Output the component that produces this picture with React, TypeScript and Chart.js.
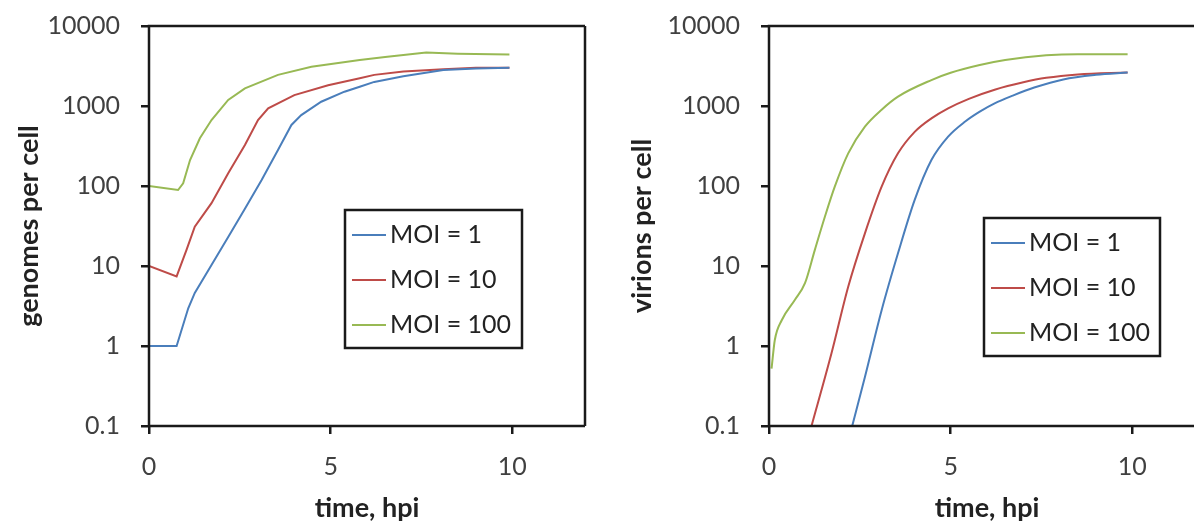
import React, { useEffect, useRef } from 'react';
import { Chart, registerables } from 'chart.js';

Chart.register(...registerables);

// ---------- data ----------
const seriesLabels = ['MOI = 1', 'MOI = 10', 'MOI = 100'];
const xTicks = [0, 5, 10];
const yTicks = [0.1, 1, 10, 100, 1000, 10000];

// genomes per cell (left panel)
const genomesT1 = [0, 0.76, 1.08, 1.26, 1.72, 2.18, 2.64, 3.1, 3.55, 3.92, 4.19, 4.74, 5.38, 5.8, 6.2, 7.0, 8.1, 9.0, 9.92];
const genomesV1 = [1, 1, 2.96, 4.6, 10.3, 23, 52, 119, 282, 580, 770, 1130, 1510, 1740, 2000, 2350, 2820, 2950, 3000];
const genomesT10 = [0, 0.76, 1.03, 1.26, 1.72, 2.18, 2.64, 3.0, 3.28, 4.0, 4.93, 5.8, 6.2, 7.0, 8.1, 9.0, 9.92];
const genomesV10 = [10, 7.4, 15.8, 31, 61, 144, 325, 668, 935, 1370, 1820, 2220, 2450, 2700, 2880, 3000, 3000];
const genomesT100 = [0, 0.8, 0.94, 1.13, 1.4, 1.72, 2.18, 2.64, 3.55, 4.47, 5.8, 6.5, 7.63, 8.5, 9.92];
const genomesV100 = [100, 89, 108, 211, 395, 668, 1190, 1660, 2450, 3100, 3750, 4100, 4650, 4500, 4400];

// virions per cell (right panel)
const virionsT1 = [2.29, 2.64, 3.1, 3.55, 4.01, 4.47, 4.93, 5.4, 5.8, 6.21, 6.71, 7.3, 8.1, 9.0, 9.87];
const virionsV1 = [0.1, 0.41, 2.8, 14.4, 67, 211, 414, 640, 850, 1080, 1350, 1700, 2150, 2450, 2620];
const virionsT10 = [1.17, 1.72, 2.18, 2.64, 3.1, 3.55, 4.01, 4.47, 4.93, 5.5, 6.21, 7.0, 7.63, 8.5, 9.87];
const virionsV10 = [0.1, 0.81, 5.5, 25.6, 98, 256, 475, 700, 935, 1230, 1600, 1980, 2250, 2480, 2620];
const virionsT100 = [0.07, 0.16, 0.35, 0.71, 0.99, 1.26, 1.54, 1.81, 2.18, 2.64, 3.1, 3.55, 4.47, 5.0, 5.8, 6.5, 7.63, 8.5, 9.87];
const virionsV100 = [0.52, 1.19, 2.1, 3.76, 6.1, 15.8, 41.5, 98, 256, 552, 900, 1310, 2110, 2600, 3250, 3750, 4300, 4450, 4450];

const colors = ['#4A7EBB', '#BE4B48', '#98B954'];

// ---------- styling ----------
const FONT = 'Lato, "Open Sans", sans-serif';
const AXIS = '#1a1a1a';

const zip = (t: number[], v: number[]) => t.map((x, i) => ({ x, y: v[i] }));

const framePlugin = {
  id: 'frameLegend',
  afterDraw(chart: any, _args: any, opts: any) {
    const { ctx, chartArea } = chart;
    const { left, right, top, bottom } = chartArea;
    ctx.save();
    ctx.lineWidth = 2.5;
    ctx.strokeStyle = AXIS;
    ctx.beginPath();
    ctx.moveTo(left, bottom);
    ctx.lineTo(left, top);
    ctx.lineTo(right, top);
    ctx.moveTo(left, bottom);
    ctx.lineTo(right, bottom);
    if (!opts || !opts.openRight) {
      ctx.moveTo(right, top);
      ctx.lineTo(right, bottom);
    }
    ctx.stroke();
    if (opts && opts.box) {
      const bx = left + opts.box.dx;
      const by = top + opts.box.dy;
      ctx.fillStyle = '#ffffff';
      ctx.fillRect(bx, by, opts.box.w, opts.box.h);
      ctx.lineWidth = 2.5;
      ctx.strokeStyle = AXIS;
      ctx.strokeRect(bx, by, opts.box.w, opts.box.h);
      chart.data.datasets.forEach((ds: any, i: number) => {
        const yy = by + 25 + i * 45;
        ctx.beginPath();
        ctx.strokeStyle = ds.borderColor;
        ctx.lineWidth = 2;
        ctx.moveTo(bx + 7, yy);
        ctx.lineTo(bx + 41, yy);
        ctx.stroke();
        ctx.fillStyle = '#222222';
        ctx.font = `25px ${FONT}`;
        ctx.textBaseline = 'middle';
        ctx.textAlign = 'left';
        ctx.fillText(ds.label, bx + 45, yy);
      });
    }
    ctx.restore();
  },
};

function makeConfig(
  datasets: { t: number[]; v: number[] }[],
  yTitle: string,
  yWidth: number,
  yTitlePad: number,
  box: any,
  openRight: boolean,
  smooth: boolean
) {
  return {
    type: 'line',
    data: {
      datasets: datasets.map((d, i) => ({
        label: seriesLabels[i],
        data: zip(d.t, d.v),
        borderColor: colors[i],
        backgroundColor: colors[i],
        borderWidth: 2,
        pointRadius: 0,
        fill: false,
        tension: smooth ? 0.4 : 0,
        cubicInterpolationMode: smooth ? 'monotone' : 'default',
      })),
    },
    options: {
      animation: false,
      responsive: false,
      layout: { padding: { top: 26, right: 15, left: 0, bottom: 0 } },
      plugins: {
        legend: { display: false },
        tooltip: { enabled: false },
        frameLegend: { box, openRight },
      },
      scales: {
        x: {
          type: 'linear',
          min: 0,
          max: 12,
          afterBuildTicks: (s: any) => {
            s.ticks = xTicks.map((value) => ({ value }));
          },
          afterFit: (s: any) => {
            s.height = 95;
            s.paddingLeft = 0;
            s.paddingRight = 0;
          },
          ticks: { font: { family: FONT, size: 25 }, color: '#404040', padding: 18, maxRotation: 0 },
          grid: { drawOnChartArea: false, drawTicks: true, tickLength: 8, color: AXIS, lineWidth: 2.5 },
          border: { display: false },
          title: {
            display: true,
            text: 'time, hpi',
            font: { family: FONT, size: 27, weight: 'bold' },
            color: '#222222',
            padding: { top: 0, bottom: -3 },
          },
        },
        y: {
          type: 'logarithmic',
          min: 0.1,
          max: 10000,
          afterBuildTicks: (s: any) => {
            s.ticks = yTicks.map((value) => ({ value }));
          },
          afterFit: (s: any) => {
            s.width = yWidth;
            s.paddingTop = 0;
            s.paddingBottom = 0;
          },
          ticks: {
            font: { family: FONT, size: 25 },
            color: '#404040',
            padding: 21,
            autoSkip: false,
            callback: (v: any) => String(v),
          },
          grid: { drawOnChartArea: false, drawTicks: true, tickLength: 8, color: AXIS, lineWidth: 2.5 },
          border: { display: false },
          title: {
            display: true,
            text: yTitle,
            font: { family: FONT, size: 27, weight: 'bold' },
            color: '#222222',
            padding: { top: yTitlePad, bottom: 0 },
          },
        },
      },
    },
    plugins: [framePlugin],
  };
}

function Panel(props: { left: number; width: number; config: any }) {
  const ref = useRef<HTMLCanvasElement | null>(null);
  useEffect(() => {
    if (!ref.current) return;
    const chart = new Chart(ref.current, props.config);
    return () => chart.destroy();
  }, []);
  return (
    <canvas
      ref={ref}
      width={props.width}
      height={521}
      style={{ position: 'absolute', left: props.left, top: 0, width: props.width, height: 521, display: 'block' }}
    />
  );
}

export default function App() {
  const leftConfig = makeConfig(
    [
      { t: genomesT1, v: genomesV1 },
      { t: genomesT10, v: genomesV10 },
      { t: genomesT100, v: genomesV100 },
    ],
    'genomes per cell',
    149,
    13,
    { dx: 196, dy: 184, w: 177, h: 138 },
    false,
    false
  );
  const rightConfig = makeConfig(
    [
      { t: virionsT1, v: virionsV1 },
      { t: virionsT10, v: virionsV10 },
      { t: virionsT100, v: virionsV100 },
    ],
    'virions per cell',
    169,
    26,
    { dx: 215, dy: 192, w: 176, h: 138 },
    true,
    true
  );
  return (
    <div
      style={{
        position: 'fixed',
        left: 0,
        top: 0,
        width: 1194,
        height: 521,
        overflow: 'hidden',
        background: '#ffffff',
      }}
    >
      <Panel left={0} width={600} config={leftConfig} />
      <Panel left={600} width={620} config={rightConfig} />
    </div>
  );
}
